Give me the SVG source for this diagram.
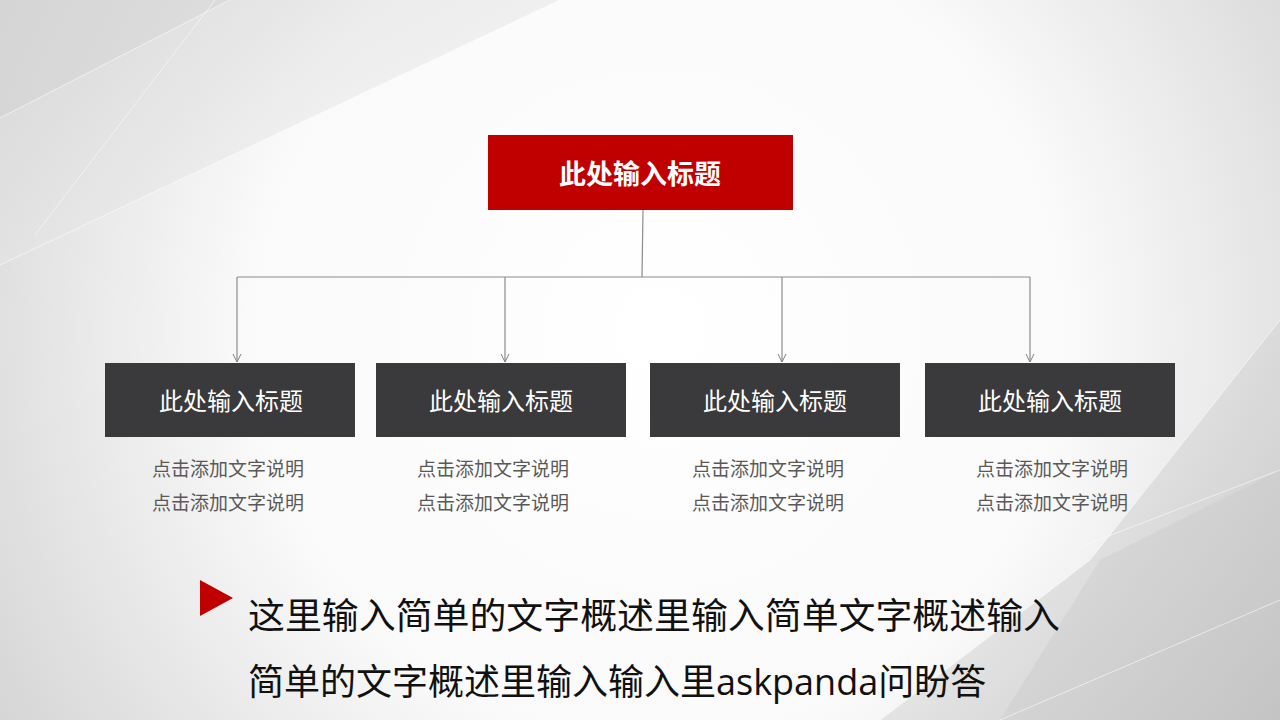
<svg xmlns="http://www.w3.org/2000/svg" width="1280" height="720" viewBox="0 0 1280 720">
<defs>
<radialGradient id="bg" cx="660" cy="330" r="820" gradientUnits="userSpaceOnUse">
<stop offset="0" stop-color="#ffffff"/>
<stop offset="0.5" stop-color="#fafafa"/>
<stop offset="1" stop-color="#d0d0d0"/>
</radialGradient>
<linearGradient id="tl" x1="0" y1="0" x2="1" y2="1">
<stop offset="0" stop-color="#d4d4d4"/>
<stop offset="1" stop-color="#f4f4f4"/>
</linearGradient>
<linearGradient id="br" x1="1" y1="1" x2="0" y2="0">
<stop offset="0" stop-color="#b0b0b0"/>
<stop offset="1" stop-color="#f2f2f2"/>
</linearGradient>
<marker id="arr" viewBox="0 0 10 10" refX="9" refY="5" markerWidth="10" markerHeight="10" markerUnits="userSpaceOnUse" orient="auto">
<path d="M1,1 L9,5 L1,9" fill="none" stroke="#808080" stroke-width="1"/>
</marker>
<style>
.title{font-family:"Microsoft YaHei","Noto Sans CJK SC",sans-serif;fill:#fff;text-anchor:middle}
.desc{font-family:"Noto Sans CJK SC",sans-serif;font-size:19px;fill:#595959}
.big{font-family:"Noto Sans CJK SC",serif;font-size:36px;fill:#111}
.conn{fill:none;stroke:#8c8c8c;stroke-width:1.2}
.child{fill:#3a393b}
.edge{fill:none;stroke:#ffffff;stroke-width:1;opacity:0.55}
</style>
</defs>
<g id="background">
<rect width="1280" height="720" fill="url(#bg)"/>
<polygon points="0,0 230,0 0,118" fill="#d2d2d2" opacity="0.6"/>
<polygon points="0,118 230,0 560,0 0,265" fill="url(#tl)" opacity="0.5"/>
<line class="edge" x1="0" y1="118" x2="230" y2="0"/>
<line class="edge" x1="35" y1="235" x2="215" y2="0"/>
<line class="edge" x1="0" y1="265" x2="560" y2="0"/>
<polygon points="1280,320 1280,720 880,720 1090,560" fill="url(#br)" opacity="0.5"/>
<polygon points="1280,470 1280,720 1000,720 1100,560" fill="#c4c4c4" opacity="0.3"/>
<polyline class="edge" points="1280,320 1090,560 880,720"/>
<line class="edge" x1="1280" y1="470" x2="1085" y2="545"/>
<line class="edge" x1="1280" y1="600" x2="1000" y2="720"/>
</g>
<g id="connectors">
<polyline class="conn" points="643,210 642,277"/>
<polyline class="conn" points="237,277 1030,277"/>
<line class="conn" x1="237" y1="277" x2="237" y2="362" marker-end="url(#arr)"/>
<line class="conn" x1="505" y1="277" x2="505" y2="362" marker-end="url(#arr)"/>
<line class="conn" x1="782" y1="277" x2="782" y2="362" marker-end="url(#arr)"/>
<line class="conn" x1="1030" y1="277" x2="1030" y2="362" marker-end="url(#arr)"/>
</g>
<g id="root">
<rect x="488" y="135" width="305" height="75" fill="#c00000"/>
<text class="title" x="640" y="184" font-size="27" font-weight="bold">此处输入标题</text>
</g>
<g id="node1">
<rect class="child" x="105" y="363" width="250" height="74"/>
<text class="title" x="231" y="410" font-size="24">此处输入标题</text>
<text class="desc" x="152" y="476">点击添加文字说明</text>
<text class="desc" x="152" y="510">点击添加文字说明</text>
</g>
<g id="node2">
<rect class="child" x="376" y="363" width="250" height="74"/>
<text class="title" x="501" y="410" font-size="24">此处输入标题</text>
<text class="desc" x="417" y="476">点击添加文字说明</text>
<text class="desc" x="417" y="510">点击添加文字说明</text>
</g>
<g id="node3">
<rect class="child" x="650" y="363" width="250" height="74"/>
<text class="title" x="775" y="410" font-size="24">此处输入标题</text>
<text class="desc" x="692" y="476">点击添加文字说明</text>
<text class="desc" x="692" y="510">点击添加文字说明</text>
</g>
<g id="node4">
<rect class="child" x="925" y="363" width="250" height="74"/>
<text class="title" x="1050" y="410" font-size="24">此处输入标题</text>
<text class="desc" x="976" y="476">点击添加文字说明</text>
<text class="desc" x="976" y="510">点击添加文字说明</text>
</g>
<g id="summary">
<polygon points="200,580 233,598 200,616" fill="#c00000"/>
<text class="big" x="248" y="629" textLength="812" lengthAdjust="spacingAndGlyphs">这里输入简单的文字概述里输入简单文字概述输入</text>
<text class="big" x="248" y="695">简单的文字概述里输入输入里<tspan font-family="'Open Sans','Noto Sans',sans-serif">askpanda</tspan>问盼答</text>
</g>
</svg>
